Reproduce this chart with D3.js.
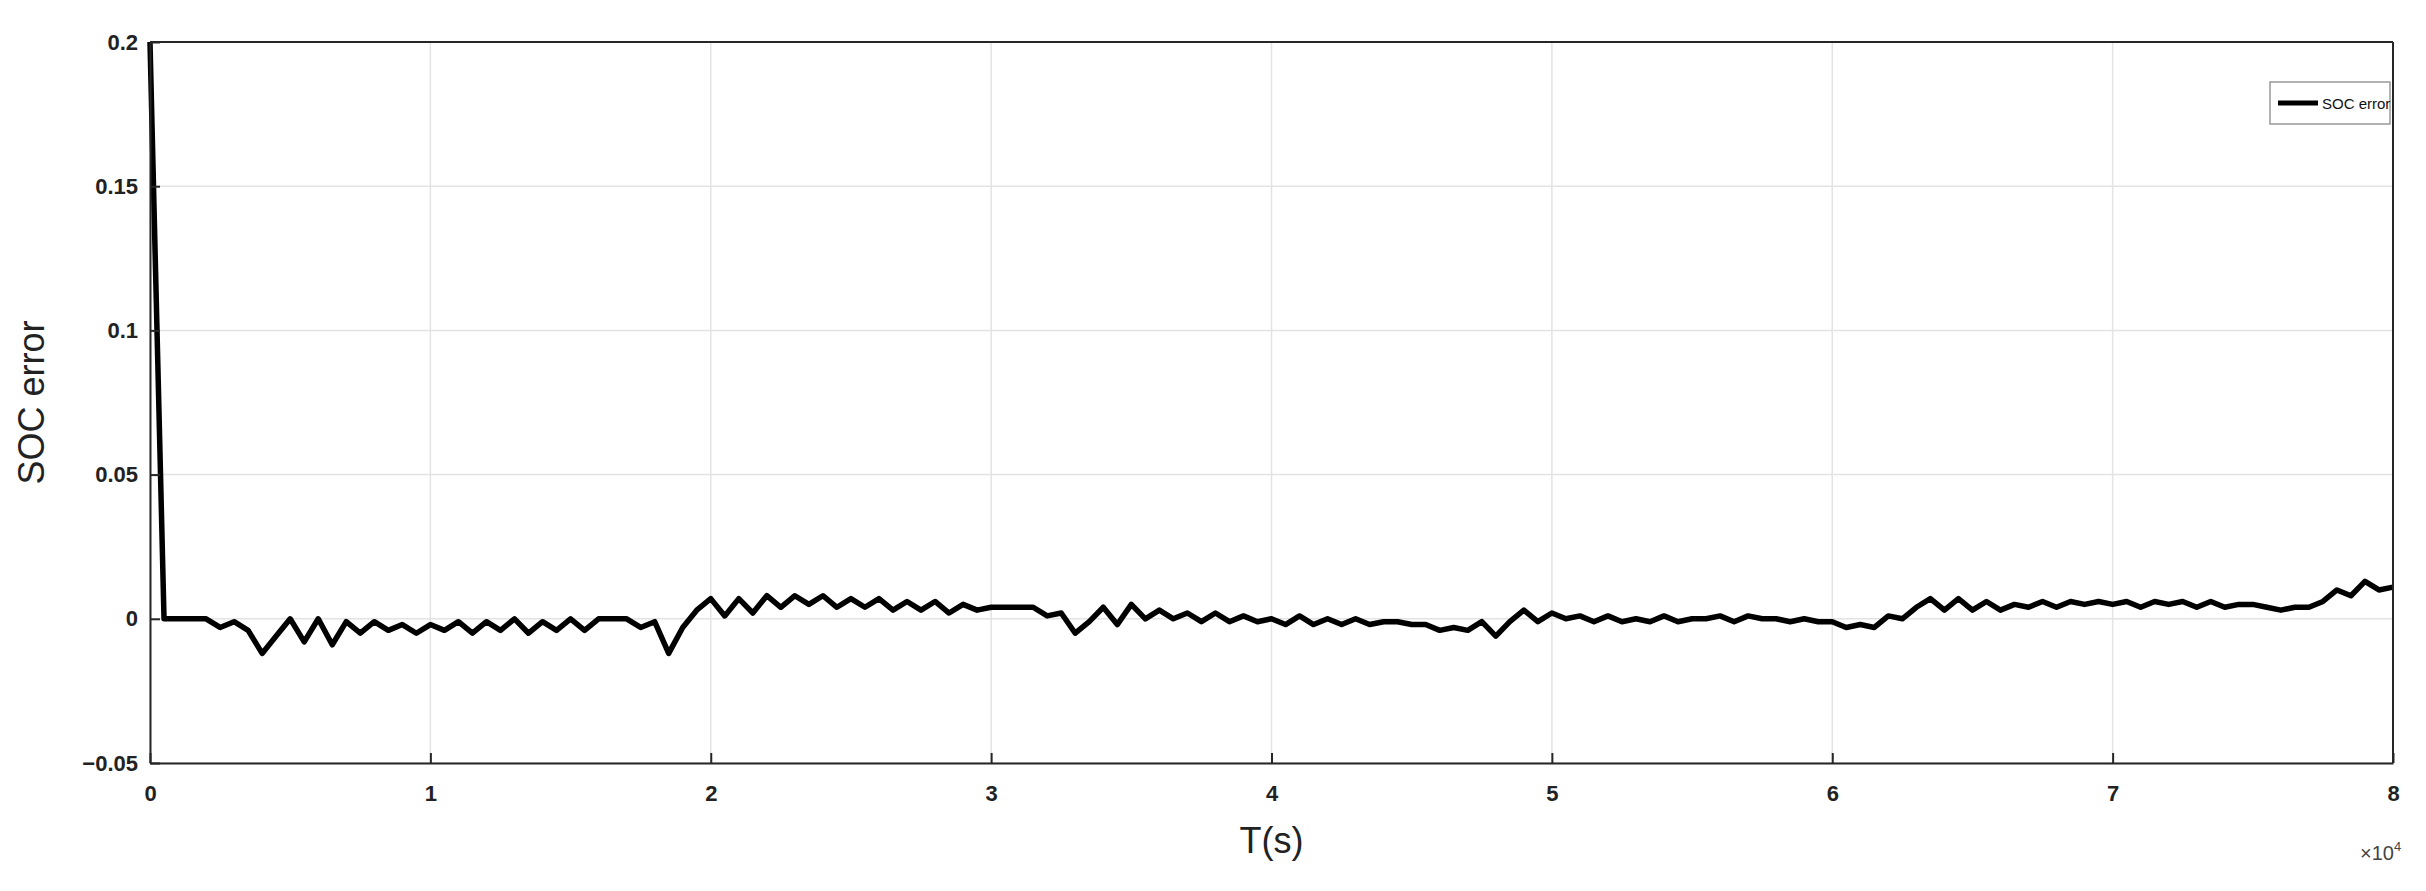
<!DOCTYPE html>
<html><head><meta charset="utf-8">
<script src="https://cdn.jsdelivr.net/npm/d3@7"></script>
<style>body{margin:0;background:#fff}svg{display:block}</style>
</head><body>
<script>
// time in units of 1e4 s; first point is the initial error
const startTime = [0];
const startError = [0.2];
const sampleStep = 0.05; // 1e4 s
// SOC error (x1e-3) sampled every 0.05e4 s from 0.05 to 8.0
const errorMilli = [0,0,0,0,-3,-1,-4,-12,-6,0,-8,0,-9,-1,-5,-1,-4,-2,-5,-2,-4,-1,-5,-1,-4,0,-5,-1,-4,0,-4,0,0,0,-3,-1,-12,-3,3,7,1,7,2,8,4,8,5,8,4,7,4,7,3,6,3,6,2,5,3,4,4,4,4,1,2,-5,-1,4,-2,5,0,3,0,2,-1,2,-1,1,-1,0,-2,1,-2,0,-2,0,-2,-1,-1,-2,-2,-4,-3,-4,-1,-6,-1,3,-1,2,0,1,-1,1,-1,0,-1,1,-1,0,0,1,-1,1,0,0,-1,0,-1,-1,-3,-2,-3,1,0,4,7,3,7,3,6,3,5,4,6,4,6,5,6,5,6,4,6,5,6,4,6,4,5,5,4,3,4,4,6,10,8,13,10,11];
const xTicks = [0,1,2,3,4,5,6,7,8];
const yTicks = [-0.05,0,0.05,0.1,0.15,0.2];
const yTickLabels = ["\u22120.05","0","0.05","0.1","0.15","0.2"];
const seriesName = "SOC error";

const data = startTime.map((t,i)=>({t, v:startError[i]}))
  .concat(errorMilli.map((m,i)=>({t:(i+1)*sampleStep, v:m/1000})));

const W=2426,H=891, L=150,R=2393,T=42,B=763;
const svg=d3.select("body").append("svg").attr("width",W).attr("height",H)
  .style("font-family","'Liberation Sans',Arial,sans-serif");
const x=d3.scaleLinear().domain([0,8]).range([L,R]);
const y=d3.scaleLinear().domain([-0.05,0.2]).range([B,T]);

const g=svg.append("g");
g.selectAll(".gx").data(xTicks).join("line").attr("x1",d=>x(d)).attr("x2",d=>x(d))
  .attr("y1",T).attr("y2",B).attr("stroke","#e3e3e3").attr("stroke-width",1.5);
g.selectAll(".gy").data(yTicks).join("line").attr("y1",d=>y(d)).attr("y2",d=>y(d))
  .attr("x1",L).attr("x2",R).attr("stroke","#e3e3e3").attr("stroke-width",1.5);

svg.append("path").datum(data).attr("fill","none").attr("stroke","#000")
  .attr("stroke-width",5.5).attr("stroke-linejoin","round")
  .attr("d",d3.line().x(d=>x(d.t)).y(d=>y(d.v)));

const ax=svg.append("g").attr("transform",`translate(0,${B})`)
  .call(d3.axisBottom(x).tickValues(xTicks).tickFormat(d3.format("d")).tickSizeInner(-10).tickSizeOuter(0).tickPadding(22));
const ay=svg.append("g").attr("transform",`translate(${L},0)`)
  .call(d3.axisLeft(y).tickValues(yTicks).tickFormat((d,i)=>yTickLabels[i]).tickSizeInner(-10).tickSizeOuter(0).tickPadding(12));
[ax,ay].forEach(a=>{a.selectAll("path,line").attr("stroke","#262626").attr("stroke-width",2);
  a.selectAll("text").attr("font-size",22).attr("font-weight","bold").attr("fill","#222").style("font-family","'Liberation Sans',Arial,sans-serif");});
ax.selectAll(".tick text").attr("dy","0.71em");
svg.append("line").attr("x1",L).attr("x2",R).attr("y1",T).attr("y2",T).attr("stroke","#262626").attr("stroke-width",2);
svg.append("line").attr("x1",R).attr("x2",R).attr("y1",T).attr("y2",B).attr("stroke","#262626").attr("stroke-width",2);

svg.append("text").attr("x",(L+R)/2).attr("y",853).attr("text-anchor","middle")
  .attr("font-size",36).attr("fill","#222").text("T(s)");
const e=svg.append("text").attr("x",2360).attr("y",860).attr("font-size",20).attr("fill","#444").text("\u00d710");
e.append("tspan").attr("dy",-9).attr("font-size",13).text("4");
svg.append("text").attr("transform",`translate(44,${(T+B)/2}) rotate(-90)`).attr("text-anchor","middle")
  .attr("font-size",36).attr("fill","#222").text("SOC error");

const lg=svg.append("g");
lg.append("rect").attr("x",2270).attr("y",82).attr("width",120).attr("height",42).attr("fill","#fff").attr("stroke","#999").attr("stroke-width",1.5);
lg.append("line").attr("x1",2278).attr("x2",2318).attr("y1",103).attr("y2",103).attr("stroke","#000").attr("stroke-width",5);
lg.append("text").attr("x",2322).attr("y",109).attr("font-size",15).attr("fill","#111").text(seriesName);
</script>
</body></html>
